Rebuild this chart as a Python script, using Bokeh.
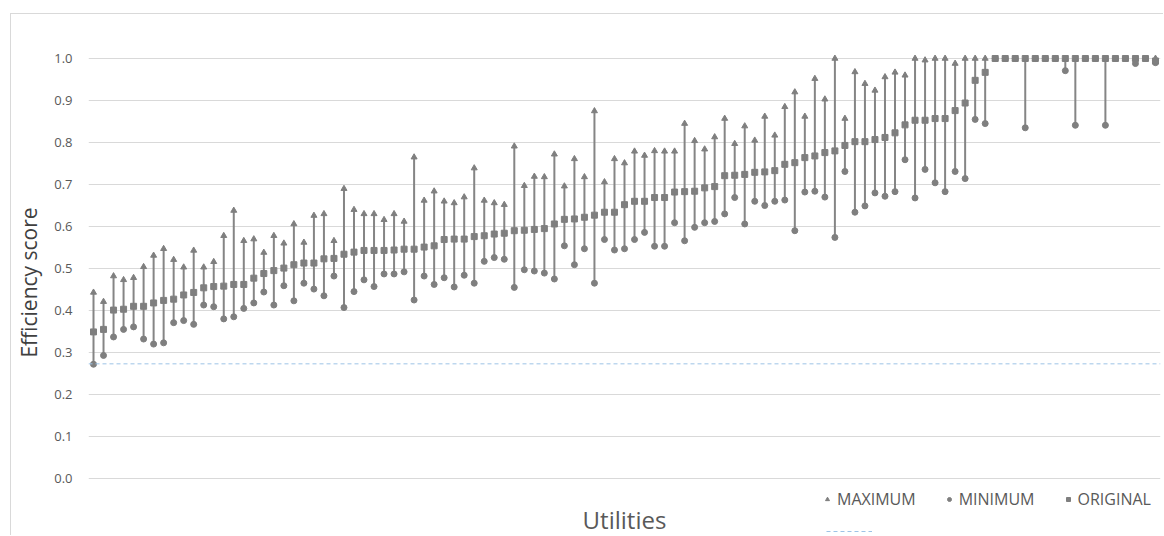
from bokeh.plotting import figure
from bokeh.models import (ColumnDataSource, FixedTicker, PrintfTickFormatter, Span,
                          Legend, LegendItem, Label, Range1d)
from bokeh.embed import file_html
from bokeh.resources import INLINE

# ---------------- data ----------------
original = [
    0.349, 0.355, 0.401, 0.403, 0.410, 0.410, 0.418, 0.424, 0.427, 0.437,
    0.443, 0.454, 0.457, 0.458, 0.462, 0.462, 0.477, 0.488, 0.495, 0.501,
    0.509, 0.513, 0.513, 0.523, 0.524, 0.534, 0.539, 0.543, 0.543, 0.543,
    0.544, 0.546, 0.546, 0.551, 0.554, 0.569, 0.570, 0.570, 0.576, 0.578,
    0.582, 0.584, 0.590, 0.591, 0.593, 0.595, 0.606, 0.617, 0.618, 0.622,
    0.627, 0.634, 0.634, 0.652, 0.660, 0.660, 0.669, 0.669, 0.682, 0.683,
    0.684, 0.692, 0.695, 0.721, 0.722, 0.724, 0.729, 0.730, 0.733, 0.748,
    0.752, 0.764, 0.768, 0.776, 0.780, 0.793, 0.802, 0.802, 0.807, 0.812,
    0.823, 0.842, 0.853, 0.853, 0.857, 0.857, 0.876, 0.894, 0.948, 0.967,
    1.000, 1.000, 1.000, 1.000, 1.000, 1.000, 1.000, 1.000, 1.000, 1.000,
    1.000, 1.000, 1.000, 1.000, 1.000, 1.000, 0.994,
]
minimum = [
    0.272, 0.293, 0.337, 0.355, 0.361, 0.332, 0.320, 0.323, 0.371, 0.376,
    0.367, 0.413, 0.409, 0.380, 0.385, 0.405, 0.418, 0.444, 0.413, 0.459,
    0.423, 0.465, 0.451, 0.435, 0.482, 0.407, 0.445, 0.473, 0.457, 0.487,
    0.487, 0.492, 0.425, 0.482, 0.462, 0.478, 0.456, 0.484, 0.465, 0.517,
    0.526, 0.522, 0.455, 0.497, 0.494, 0.489, 0.475, 0.554, 0.509, 0.547,
    0.465, 0.569, 0.544, 0.547, 0.569, 0.586, 0.553, 0.553, 0.609, 0.566,
    0.598, 0.609, 0.612, 0.630, 0.669, 0.606, 0.660, 0.650, 0.660, 0.663,
    0.590, 0.682, 0.684, 0.670, 0.574, 0.731, 0.634, 0.649, 0.680, 0.672,
    0.683, 0.759, 0.668, 0.736, 0.704, 0.683, 0.731, 0.714, 0.855, 0.845,
    1.000, 1.000, 1.000, 0.835, 1.000, 1.000, 1.000, 0.971, 0.841, 1.000,
    1.000, 0.841, 1.000, 1.000, 0.988, 1.000, 0.990,
]
maximum = [
    0.443, 0.421, 0.482, 0.473, 0.478, 0.504, 0.531, 0.547, 0.521, 0.503,
    0.543, 0.503, 0.516, 0.578, 0.638, 0.566, 0.570, 0.538, 0.578, 0.560,
    0.606, 0.562, 0.626, 0.630, 0.566, 0.690, 0.640, 0.630, 0.630, 0.616,
    0.630, 0.612, 0.765, 0.662, 0.684, 0.660, 0.656, 0.670, 0.739, 0.662,
    0.656, 0.652, 0.791, 0.697, 0.719, 0.718, 0.772, 0.696, 0.761, 0.718,
    0.875, 0.706, 0.761, 0.751, 0.779, 0.769, 0.780, 0.779, 0.779, 0.845,
    0.804, 0.784, 0.813, 0.857, 0.797, 0.839, 0.805, 0.862, 0.817, 0.885,
    0.920, 0.862, 0.952, 0.903, 1.000, 0.857, 0.968, 0.940, 0.924, 0.956,
    0.967, 0.960, 1.000, 0.996, 1.000, 1.000, 0.988, 1.000, 1.000, 1.000,
    1.000, 1.000, 1.000, 1.000, 1.000, 1.000, 1.000, 1.000, 1.000, 1.000,
    1.000, 1.000, 1.000, 1.000, 1.000, 1.000, 1.000,
]
utility = list(range(1, len(original) + 1))
threshold = 0.273
y_ticks = [0.0, 0.1, 0.2, 0.3, 0.4, 0.5, 0.6, 0.7, 0.8, 0.9, 1.0]
legend_labels = ["MAXIMUM", "MINIMUM", "ORIGINAL"]

# ---------------- styles ----------------
FONT = "Open Sans"
MARK = "#7f7f7f"
LINE = "#858585"
DASH = "#9dc3e6"
GRID = "#d9d9d9"

src = ColumnDataSource(dict(utility=utility, original=original,
                            minimum=minimum, maximum=maximum,
                            threshold=[threshold] * len(utility)))

W, H = 1153, 522
p = figure(width=W, height=H, output_backend="svg", toolbar_location=None,
           x_range=Range1d(0.5, len(utility) + 0.5),
           y_range=Range1d(-58 / 420, 450 / 420),
           x_axis_location=None,
           min_border_left=77, min_border_right=4,
           min_border_top=14, min_border_bottom=0)
p.outline_line_color = None
p.background_fill_color = "white"
p.border_fill_color = "white"
p.styles = {"border-top": "1px solid #d9d9d9", "border-left": "1px solid #d9d9d9",
            "margin-top": "13px", "margin-left": "10px"}

# threshold dashed line (drawn full width; hidden renderer carries the legend sample)
p.add_layout(Span(location=threshold, dimension="width", line_color=DASH,
                  line_dash="4 3", line_width=1))
r_thr = p.line("utility", "threshold", source=src, line_color=DASH,
               line_dash="4 3", line_width=1)
r_thr.visible = False

p.segment(x0="utility", y0="minimum", x1="utility", y1="maximum", source=src,
          line_color=LINE, line_width=2)
r_min = p.scatter("utility", "minimum", marker="circle", size=6, source=src,
                  fill_color=MARK, line_color=MARK)
r_max = p.scatter("utility", "maximum", marker="triangle", size=6, source=src,
                  fill_color=MARK, line_color=MARK)
r_orig = p.scatter("utility", "original", marker="square", size=6, source=src,
                   fill_color=MARK, line_color=MARK)

# axes / grid
p.xgrid.visible = False
p.yaxis.ticker = FixedTicker(ticks=y_ticks)
p.ygrid.ticker = FixedTicker(ticks=y_ticks)
p.ygrid.grid_line_color = GRID
p.ygrid.grid_line_width = 1
p.yaxis.formatter = PrintfTickFormatter(format="%.1f")
p.yaxis.axis_line_color = None
p.yaxis.major_tick_line_color = None
p.yaxis.minor_tick_line_color = None
p.yaxis.major_tick_out = 0
p.yaxis.major_tick_in = 0
p.yaxis.minor_tick_out = 0
p.yaxis.minor_tick_in = 0
p.yaxis.major_label_standoff = 16
p.yaxis.major_label_text_font = FONT
p.yaxis.major_label_text_font_size = "13px"
p.yaxis.major_label_text_color = "#595959"
p.yaxis.axis_label = "Efficiency score"
p.yaxis.axis_label_text_font = FONT
p.yaxis.axis_label_text_font_size = "21px"
p.yaxis.axis_label_text_font_style = "normal"
p.yaxis.axis_label_text_color = "#404040"
p.yaxis.axis_label_standoff = 8

# x title
p.add_layout(Label(x=(0.5 + len(utility) + 0.5) / 2, y=-41 / 420, x_units="data", y_units="data",
                   text="Utilities", text_align="center", text_baseline="middle",
                   text_font=FONT, text_font_size="24px", text_color="#595959"))

# legends
leg1 = Legend(items=[LegendItem(label=legend_labels[0], renderers=[r_max]),
                     LegendItem(label=legend_labels[1], renderers=[r_min]),
                     LegendItem(label=legend_labels[2], renderers=[r_orig])],
              orientation="horizontal", location=(734, 26),
              glyph_width=10, glyph_height=20, label_height=20, label_standoff=5,
              spacing=28, padding=0, margin=0, border_line_color=None,
              background_fill_alpha=0, label_text_font=FONT,
              label_text_font_size="16px", label_text_color="#595959")
leg2 = Legend(items=[LegendItem(label=" ", renderers=[r_thr])],
              orientation="horizontal", location=(738, 1),
              glyph_width=46, glyph_height=8, label_height=8, label_width=0,
              label_standoff=0, padding=0, margin=0, border_line_color=None,
              background_fill_alpha=0, inactive_fill_alpha=0, label_text_font=FONT,
              label_text_font_size="1px")
p.add_layout(leg1)
p.add_layout(leg2)

open("out.html", "w").write(file_html(p, INLINE))
